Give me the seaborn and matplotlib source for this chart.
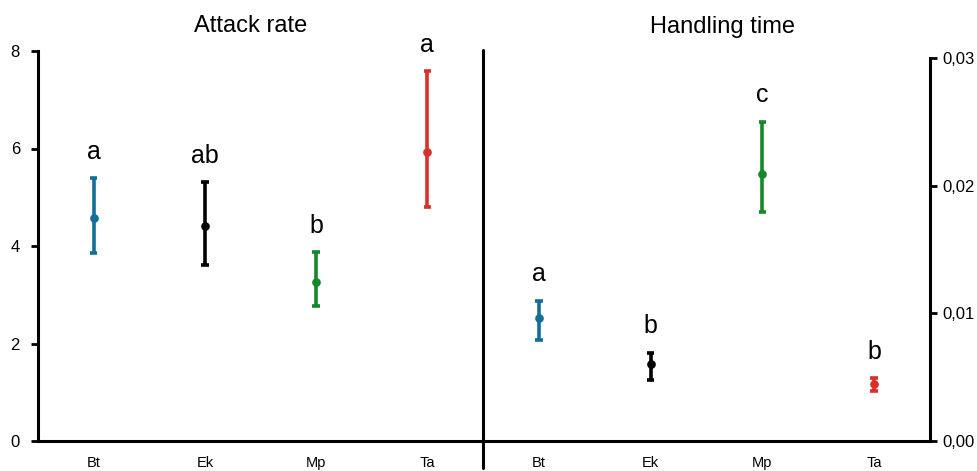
import numpy as np
import pandas as pd
import matplotlib
matplotlib.use("Agg")
import matplotlib.pyplot as plt
import seaborn as sns

# ---- data ----
species = ["Bt", "Ek", "Mp", "Ta"]
colors = ["#136f97", "#000000", "#15892a", "#d8302b"]

attack_mean = [4.57, 4.40, 3.27, 5.93]
attack_low = [3.85, 3.62, 2.77, 4.79]
attack_high = [5.39, 5.31, 3.87, 7.59]
attack_letters = ["a", "ab", "b", "a"]

handling_mean = [0.0096, 0.0060, 0.0209, 0.00445]
handling_low = [0.0079, 0.0048, 0.0179, 0.0039]
handling_high = [0.0110, 0.0069, 0.0250, 0.0049]
handling_letters = ["a", "b", "c", "b"]

attack_ticks = [0, 2, 4, 6, 8]
handling_ticks = [0.00, 0.01, 0.02, 0.03]
handling_ticklabels = ["0,00", "0,01", "0,02", "0,03"]


def long_form(mean, low, high):
    rows = []
    for s, m, lo, hi in zip(species, mean, low, high):
        for v in (lo, m, hi):
            rows.append({"species": s, "value": v})
    return pd.DataFrame(rows)


sns.set_theme(style="ticks")
plt.rcParams["font.family"] = ["Liberation Sans", "DejaVu Sans"]
plt.rcParams.update({"text.color": "black", "xtick.color": "black",
                     "ytick.color": "black", "axes.labelcolor": "black"})

W, H = 978, 471
fig = plt.figure(figsize=(W / 100, H / 100), dpi=100)

ax1 = fig.add_axes([38 / W, (H - 441) / H, 445 / W, 390 / H])
ax2 = fig.add_axes([483 / W, (H - 441) / H, 447 / W, 383 / H])

palette = dict(zip(species, colors))


def draw(ax, mean, low, high, letters):
    df = long_form(mean, low, high)
    sns.pointplot(
        data=df, x="species", y="value", hue="species", order=species,
        palette=palette, estimator="median",
        errorbar=lambda x: (x.min(), x.max()),
        linestyle="none", markers="o", markersize=4.2,
        capsize=0.068, err_kws={"linewidth": 2.6, "solid_capstyle": "butt"},
        legend=False, ax=ax,
    )
    for i, (hi, lab) in enumerate(zip(high, letters)):
        ax.annotate(lab, xy=(i, hi), xytext=(0, 14), textcoords="offset points",
                    ha="center", va="baseline", fontsize=18, color="black")
    ax.set_xlim(-0.5, 3.5)
    ax.set_xlabel("")
    ax.set_ylabel("")
    ax.tick_params(axis="x", length=0, pad=18.5, labelsize=10.5, colors="black")
    for lab in ax.get_xticklabels():
        lab.set_verticalalignment("baseline")
    ax.set_facecolor("none")


draw(ax1, attack_mean, attack_low, attack_high, attack_letters)
draw(ax2, handling_mean, handling_low, handling_high, handling_letters)

# left panel axes
ax1.set_ylim(0, 8)
ax1.set_yticks(attack_ticks)
ax1.set_yticklabels([str(t) for t in attack_ticks])
ax1.tick_params(axis="y", length=5, width=2, pad=8, labelsize=12, direction="out")
for sp in ["top", "right"]:
    ax1.spines[sp].set_visible(False)
for sp in ["left", "bottom"]:
    ax1.spines[sp].set_linewidth(2.2)
    ax1.spines[sp].set_color("black")

# right panel axes
ax2.set_ylim(0, 0.03)
ax2.yaxis.tick_right()
ax2.set_yticks(handling_ticks)
ax2.set_yticklabels(handling_ticklabels)
ax2.tick_params(axis="y", length=5, width=2, pad=4, labelsize=12, direction="out",
                left=False, right=True, labelleft=False, labelright=True)
for sp in ["top", "left"]:
    ax2.spines[sp].set_visible(False)
for sp in ["right", "bottom"]:
    ax2.spines[sp].set_linewidth(2.2)
    ax2.spines[sp].set_color("black")

# middle divider line
ax2.axvline(-0.5, ymin=-0.07, ymax=1.02, color="black", linewidth=2.2, clip_on=False)

fig.text(251 / W, 1 - 32 / H, "Attack rate", ha="center", va="baseline", fontsize=17)
fig.text(722 / W, 1 - 33 / H, "Handling time", ha="center", va="baseline", fontsize=17)

fig.savefig("out.png", dpi=100)
